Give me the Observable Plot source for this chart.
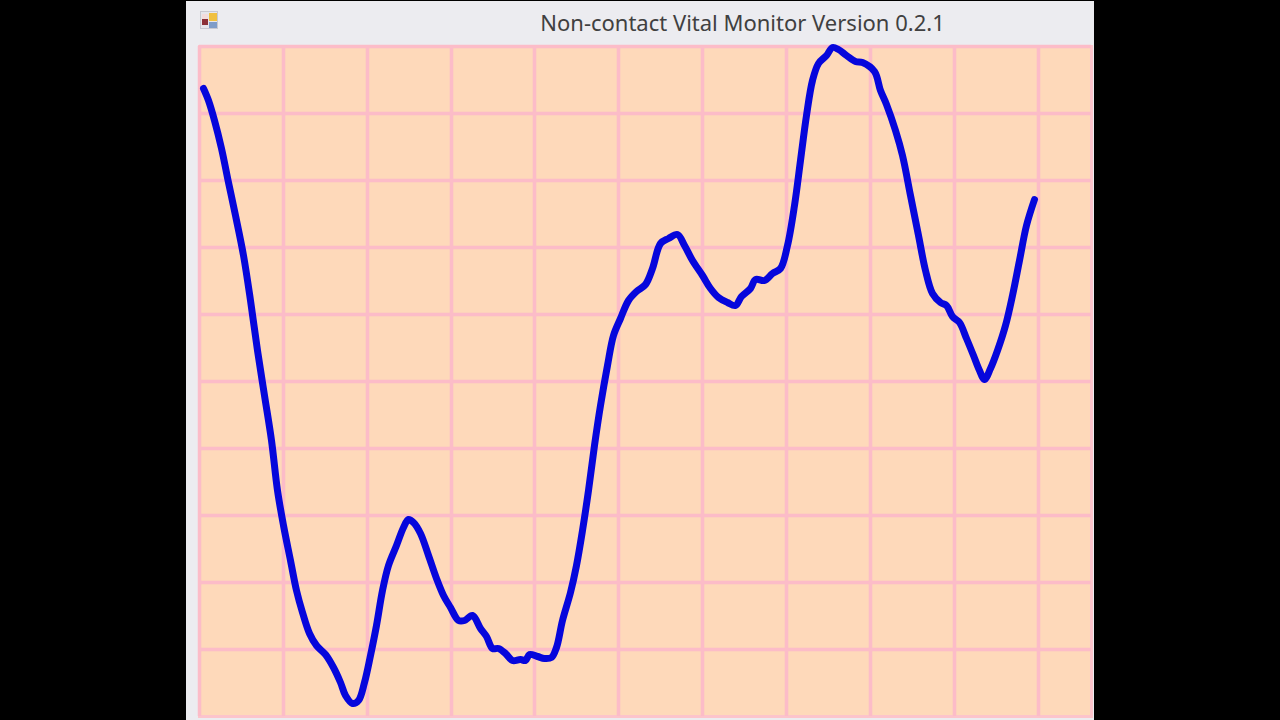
<!DOCTYPE html>
<html>
<head>
<meta charset="utf-8">
<script src="https://cdn.jsdelivr.net/npm/d3@7"></script>
<script src="https://cdn.jsdelivr.net/npm/@observablehq/plot@0.6"></script>
<style>
html,body{margin:0;padding:0;width:1280px;height:720px;background:#000;overflow:hidden}
#win{position:absolute;left:186px;top:1px;width:908px;height:719px;background:#ececf0}
#title{position:absolute;left:186px;top:8px;width:1113px;text-align:center;font:22px/28px "Noto Sans",sans-serif;color:#404040;white-space:nowrap}
#icon{position:absolute;left:200px;top:11px;width:18px;height:18px;background:#e6e6ec;border:1px solid #c8c8d0;box-sizing:border-box}
#icon i{position:absolute;display:block}
#chart{position:absolute;left:0;top:0}
</style>
</head>
<body>
<div id="win"></div>
<div id="icon">
<i style="left:8px;top:1px;width:8px;height:8px;background:#f0c040"></i>
<i style="left:1px;top:2px;width:6px;height:5px;background:#f3dcdc"></i>
<i style="left:1px;top:7px;width:6px;height:6px;background:#8c3038"></i>
<i style="left:8px;top:10px;width:8px;height:6px;background:#7f9cc8"></i>
</div>
<div id="title">Non-contact Vital Monitor Version 0.2.1</div>
<div id="chart"></div>
<script>
const sampleIndex = [4,9,15,22,29,36,44,51,58,65,72,78,84,91,97,103,110,117,126,134,141,146,153,159,165,171,177,183,189,197,204,209,214,221,229,237,244,251,259,265,273,281,287,293,299,306,313,321,326,330,338,345,352,357,363,371,377,383,389,395,401,408,414,421,429,437,446,453,461,469,478,485,493,503,511,519,528,536,542,551,556,565,573,581,588,595,601,607,613,619,627,633,639,647,656,663,675,681,687,696,703,711,719,726,733,741,747,753,760,767,774,780,785,791,798,806,813,820,827,835];
const signalLevel = [628,616,596,568,534,501,461,416,366,321,276,226,191,156,126,104,83,71,62,49,34,21,13,16,34,61,91,126,151,171,189,197,194,183,161,138,121,109,96,96,101,88,80,68,68,63,56,57,56,62,60,58,59,69,96,124,151,186,226,271,311,351,381,398,416,425,432,448,473,478,482,471,456,441,428,419,414,411,420,428,437,436,443,448,471,511,556,601,636,653,661,669,667,661,655,654,645,626,612,586,561,521,481,446,423,414,411,400,394,378,361,346,337,348,366,391,421,456,491,517];
const gridTime = [0,84,168,252,335,419,503,587,671,755,839];
const gridLevel = [67,134,201,268,335,402,469,536,603,670];
const data = sampleIndex.map((t, i) => ({t, v: signalLevel[i]}));

document.getElementById("chart").append(Plot.plot({
  width: 1280,
  height: 720,
  marginLeft: 199,
  marginRight: 189,
  marginTop: 46,
  marginBottom: 4,
  style: {background: "transparent"},
  x: {domain: [0, 892], axis: null},
  y: {domain: [0, 670], axis: null},
  marks: [
    Plot.frame({fill: "#fed9ba", stroke: "#fcc4cc", strokeWidth: 3}),
    Plot.ruleX(gridTime, {stroke: "#fcbcc8", strokeWidth: 3.5}),
    Plot.ruleY(gridLevel, {stroke: "#fcbcc8", strokeWidth: 3.5}),
    Plot.line(data, {x: "t", y: "v", stroke: "#0606dc", strokeWidth: 7, strokeLinejoin: "round", strokeLinecap: "round", curve: "catmull-rom"})
  ]
}));
</script>
</body>
</html>
